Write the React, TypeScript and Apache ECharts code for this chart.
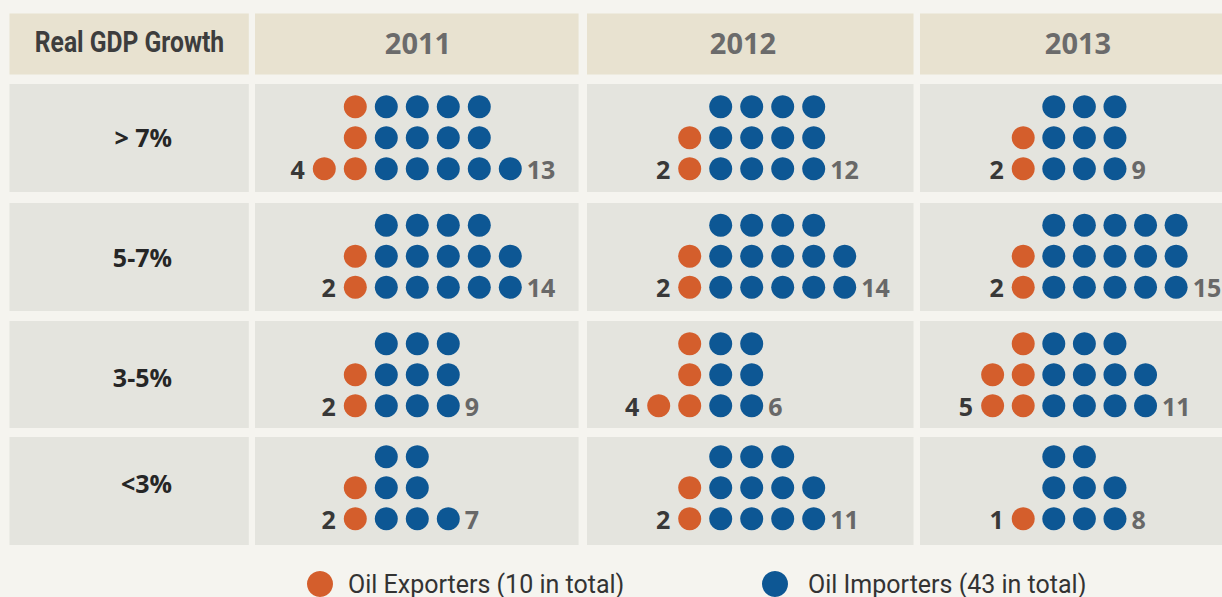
import React, { useEffect, useRef } from 'react';
import * as echarts from 'echarts';

// ---------- data ----------
const years = ['2011', '2012', '2013'];
const growthBands = ['> 7%', '5-7%', '3-5%', '<3%'];
const headerLabel = 'Real GDP Growth';
// number of countries per growth band (rows) and year (columns)
const oilExporters = [
  [4, 2, 2],
  [2, 2, 2],
  [2, 4, 5],
  [2, 2, 1],
];
const oilImporters = [
  [13, 12, 9],
  [14, 14, 15],
  [9, 6, 11],
  [7, 11, 8],
];

// ---------- style / layout ----------
const ORANGE = '#D45E2C';
const BLUE = '#0D5794';
const BG = '#F5F4EF';
const HEADER_FILL = '#E8E2D0';
const CELL_FILL = '#E4E4DE';
const LABEL_X: [number, number] = [9.5, 248.8];
const COL_X: [number, number][] = [[255, 578.6], [587, 913.5], [920, 1245]];
const HEADER_Y: [number, number] = [13.5, 74.5];
const ROW_Y: [number, number][] = [[84, 192], [203, 311], [321, 428], [437, 545]];
const BLUE0_X = [386.3, 720.7, 1056.1];
const BOTTOM_DOT_Y = [168.7, 287.3, 405.7, 518.7];
const YEAR_X = [418, 743, 1078];
const BAND_Y = [137, 257, 377, 483];
const PITCH = 31;
const DOT = 23;

function splitRows(n: number, rows = 3): number[] {
  const out: number[] = [];
  let rem = n;
  for (let r = 0; r < rows; r++) {
    const k = Math.ceil(rem / (rows - r));
    out.push(k);
    rem -= k;
  }
  return out;
}

const sum = (m: number[][]) => m.reduce((a, r) => a + r.reduce((b, v) => b + v, 0), 0) / years.length;
const exporterName = `Oil Exporters (${sum(oilExporters)} in total)`;
const importerName = `Oil Importers (${sum(oilImporters)} in total)`;

function buildOption() {
  const grids: any[] = [];
  const xAxes: any[] = [];
  const yAxes: any[] = [];
  const series: any[] = [];
  const graphic: any[] = [];

  const rect = (x0: number, x1: number, y0: number, y1: number, fill: string) => ({
    type: 'rect', z: 0, silent: true,
    shape: { x: x0, y: y0, width: x1 - x0, height: y1 - y0 },
    style: { fill },
  });
  graphic.push(rect(LABEL_X[0], LABEL_X[1], HEADER_Y[0], HEADER_Y[1], HEADER_FILL));
  COL_X.forEach((c) => graphic.push(rect(c[0], c[1], HEADER_Y[0], HEADER_Y[1], HEADER_FILL)));
  ROW_Y.forEach((r) => {
    graphic.push(rect(LABEL_X[0], LABEL_X[1], r[0], r[1], CELL_FILL));
    COL_X.forEach((c) => graphic.push(rect(c[0], c[1], r[0], r[1], CELL_FILL)));
  });

  graphic.push({
    type: 'text', z: 10, silent: true, x: 129.5, y: 42, scaleX: 0.85,
    style: {
      text: headerLabel, fill: '#3d3d3d', fontSize: 29, fontWeight: 'bold', fontFamily: 'Roboto',
      textAlign: 'center', textVerticalAlign: 'middle', align: 'center', verticalAlign: 'middle',
    },
  });
  years.forEach((yr, i) => {
    graphic.push({
      type: 'text', z: 10, silent: true, x: YEAR_X[i], y: 42,
      style: {
        text: yr, fill: '#6b6b6b', fontSize: 29, fontWeight: 'bold', fontFamily: '"Open Sans", sans-serif',
        textAlign: 'center', textVerticalAlign: 'middle', align: 'center', verticalAlign: 'middle',
      },
    });
  });
  growthBands.forEach((b, i) => {
    graphic.push({
      type: 'text', z: 10, silent: true, x: 172, y: BAND_Y[i],
      style: {
        text: b, fill: '#262626', fontSize: 25, fontWeight: 'bold', fontFamily: '"Open Sans", sans-serif',
        textAlign: 'right', textVerticalAlign: 'middle', align: 'right', verticalAlign: 'middle',
      },
    });
  });

  const numStyle = { fontSize: 25, fontWeight: 'bold', fontFamily: '"Open Sans", sans-serif' };

  growthBands.forEach((_, ri) => {
    years.forEach((__, ci) => {
      const idx = grids.length;
      grids.push({
        left: BLUE0_X[ci] - 5.5 * PITCH,
        top: BOTTOM_DOT_Y[ri] - 2.5 * PITCH,
        width: 11 * PITCH,
        height: 3 * PITCH,
        containLabel: false,
      });
      xAxes.push({ type: 'value', gridIndex: idx, min: -5.5, max: 5.5, show: false });
      yAxes.push({ type: 'value', gridIndex: idx, min: -0.5, max: 2.5, show: false });

      const exp = oilExporters[ri][ci];
      const imp = oilImporters[ri][ci];
      const expRows = splitRows(exp);
      const impRows = splitRows(imp);

      const expData: any[] = [];
      expRows.forEach((k, r) => {
        for (let j = 1; j <= k; j++) {
          const item: any = { value: [-j, r] };
          if (r === 0 && j === k) {
            item.label = {
              show: true, position: 'left', distance: 8, formatter: String(exp),
              color: '#383838', ...numStyle,
            };
          }
          expData.push(item);
        }
      });
      const impData: any[] = [];
      impRows.forEach((k, r) => {
        for (let j = 0; j < k; j++) {
          const item: any = { value: [j, r] };
          if (r === 0 && j === k - 1) {
            item.label = {
              show: true, position: 'right', distance: 5, formatter: String(imp),
              color: '#686868', ...numStyle,
            };
          }
          impData.push(item);
        }
      });

      series.push({
        type: 'scatter', name: exporterName, xAxisIndex: idx, yAxisIndex: idx,
        symbol: 'circle', symbolSize: DOT, itemStyle: { color: ORANGE, opacity: 1 }, silent: true,
        label: { show: false }, data: expData, z: 3,
      });
      series.push({
        type: 'scatter', name: importerName, xAxisIndex: idx, yAxisIndex: idx,
        symbol: 'circle', symbolSize: DOT, itemStyle: { color: BLUE, opacity: 1 }, silent: true,
        label: { show: false }, data: impData, z: 3,
      });
    });
  });

  const legendBase = {
    top: 571, itemWidth: 26, itemHeight: 26, icon: 'circle', selectedMode: false, padding: 0,
  };
  const legendText = { fontSize: 25, color: '#333333', fontFamily: 'Roboto' };

  return {
    animation: false,
    backgroundColor: BG,
    grid: grids,
    xAxis: xAxes,
    yAxis: yAxes,
    series,
    graphic,
    legend: [
      {
        ...legendBase, left: 307, textStyle: { ...legendText, padding: [0, 0, 0, 10] },
        data: [{ name: exporterName, itemStyle: { color: ORANGE } }],
      },
      {
        ...legendBase, left: 762, textStyle: { ...legendText, padding: [0, 0, 0, 15] },
        data: [{ name: importerName, itemStyle: { color: BLUE } }],
      },
    ],
    tooltip: { show: false },
  };
}

export default function App() {
  const ref = useRef<HTMLDivElement>(null);
  useEffect(() => {
    document.body.style.margin = '0';
    if (!ref.current) return;
    const chart = echarts.init(ref.current, null, { renderer: 'svg' });
    chart.setOption(buildOption() as any);
    return () => chart.dispose();
  }, []);
  return <div ref={ref} style={{ width: 1222, height: 597, background: BG }} />;
}
